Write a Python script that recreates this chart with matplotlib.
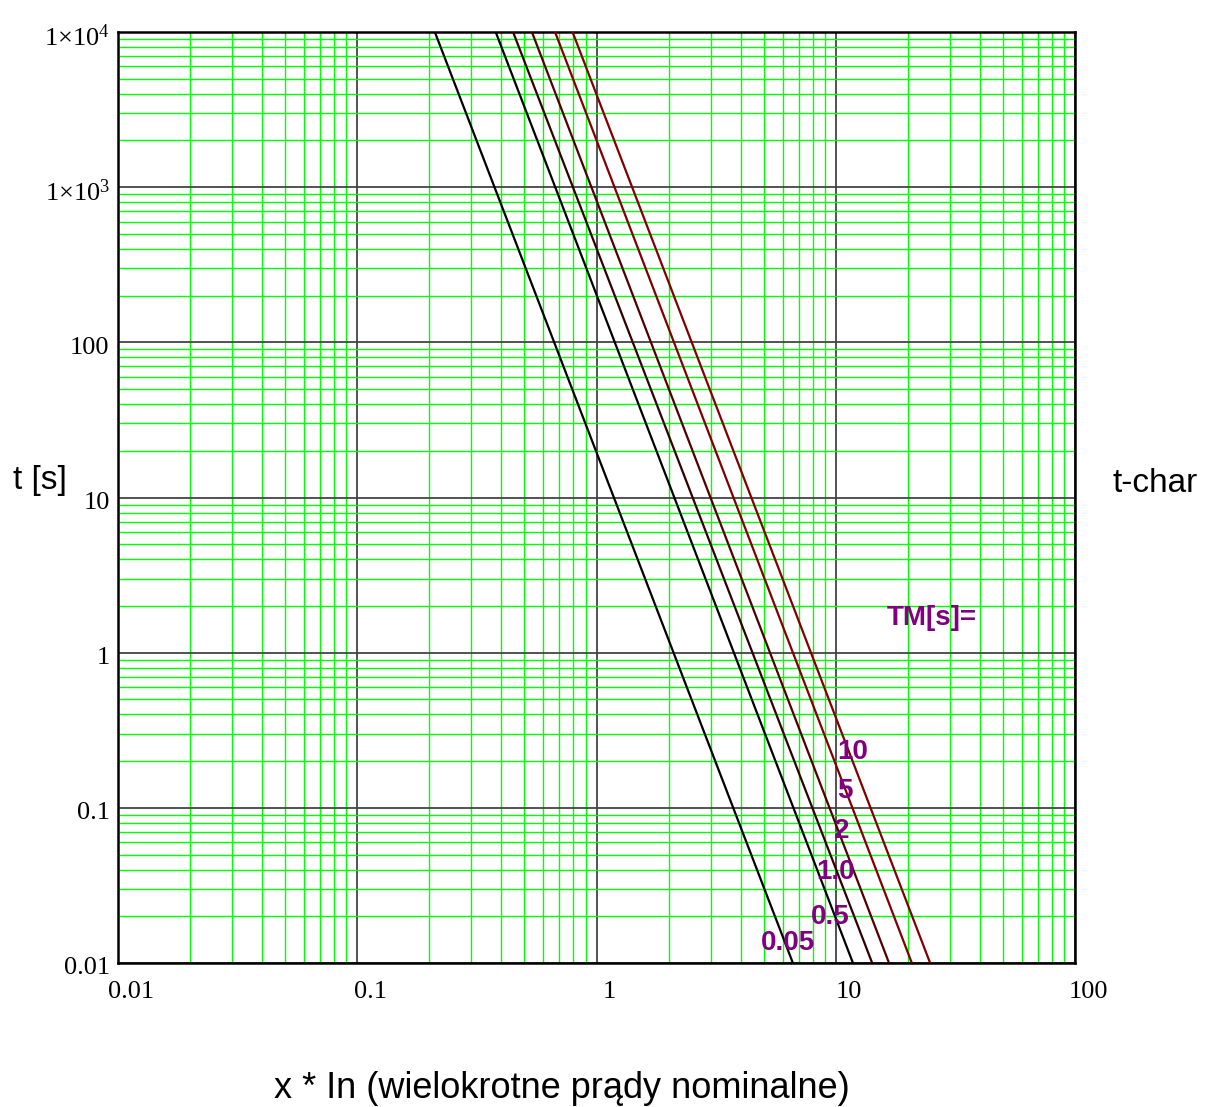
import numpy as np
import matplotlib
matplotlib.use("Agg")
import matplotlib.pyplot as plt
import matplotlib.transforms as mtransforms
from matplotlib.ticker import FixedLocator, LogLocator, NullFormatter

plt.rcParams['mathtext.fontset'] = 'custom'
plt.rcParams['mathtext.rm'] = 'Liberation Serif'
plt.rcParams['mathtext.it'] = 'Liberation Serif:italic'
plt.rcParams['mathtext.bf'] = 'Liberation Serif:bold'

# Dane: prosta w skali log-log, punkty na górnej i dolnej krawędzi
tm_labels = ["0.05", "0.5", "1.0", "2", "5", "10"]
x_at_top = [0.211, 0.379, 0.448, 0.537, 0.671, 0.794]    # t = 1e4 s
x_at_bottom = [6.62, 11.8, 14.2, 16.7, 20.8, 24.8]       # t = 0.01 s
t_ends = [1e4, 0.01]
line_colors = ["#000000", "#000000", "#300000", "#500000", "#800000", "#800000"]

# polozenie podpisow TM
label_x = [6.31, 9.46, 10.0, 10.6, 10.9, 11.8]
label_t = [0.0135, 0.0199, 0.0388, 0.0713, 0.129, 0.230]

x_ticks = [0.01, 0.1, 1, 10, 100]
x_ticklabels = ["0.01", "0.1", "1", "10", "100"]
y_ticks = [0.01, 0.1, 1, 10, 100, 1000, 10000]
y_ticklabels = ["0.01", "0.1", "1", "10", "100", r"$1{\times}10^{3}$", r"$1{\times}10^{4}$"]

fig = plt.figure(figsize=(12.05, 11.07), dpi=100)
ax = fig.add_axes([118 / 1205, 1 - 963 / 1107, (1075 - 118) / 1205, (963 - 32) / 1107])
ax.set_xscale('log')
ax.set_yscale('log')
ax.set_xlim(0.01, 100)
ax.set_ylim(0.01, 1e4)

for i in range(len(tm_labels)):
    ax.plot([x_at_top[i], x_at_bottom[i]], t_ends, color=line_colors[i], lw=1.6, zorder=3)
    ax.text(label_x[i], label_t[i], tm_labels[i], color='#800080', fontsize=20,
            fontweight='bold', family='Liberation Sans', ha='center', va='center', zorder=4)

ax.text(25.3, 1.68, "TM[s]=", color='#800080', fontsize=20, fontweight='bold',
        family='Liberation Sans', ha='center', va='center')

# siatka
ax.xaxis.set_minor_locator(LogLocator(base=10, subs=np.arange(2, 10)))
ax.yaxis.set_minor_locator(LogLocator(base=10, subs=np.arange(2, 10)))
ax.xaxis.set_minor_formatter(NullFormatter())
ax.yaxis.set_minor_formatter(NullFormatter())
ax.grid(which='minor', color='#00ff00', lw=1.0)
ax.grid(which='major', color='#444444', lw=1.3)
ax.set_axisbelow(True)

ax.xaxis.set_major_locator(FixedLocator(x_ticks))
ax.yaxis.set_major_locator(FixedLocator(y_ticks))
ax.set_xticklabels(x_ticklabels, family='Liberation Serif', fontsize=19)
ax.set_yticklabels(y_ticklabels, family='Liberation Serif', fontsize=19)
ax.tick_params(which='both', length=0)
ax.tick_params(axis='x', pad=13)
ax.tick_params(axis='y', pad=6)

# przesuniecie podpisow osi x w prawo
shift = mtransforms.ScaledTranslation(13 / 100, 0, fig.dpi_scale_trans)
for lab in ax.get_xticklabels():
    lab.set_transform(lab.get_transform() + shift)
shift_y = mtransforms.ScaledTranslation(0, -3 / 100, fig.dpi_scale_trans)
for lab in ax.get_yticklabels():
    lab.set_transform(lab.get_transform() + shift_y)

for s in ax.spines.values():
    s.set_linewidth(1.8)
    s.set_color('black')

fig.text(40 / 1205, 1 - 481 / 1107, "t [s]", fontsize=24, family='Liberation Sans',
         ha='center', va='center')
fig.text(1155 / 1205, 1 - 483 / 1107, "t-char", fontsize=24, family='Liberation Sans',
         ha='center', va='center')
fig.text(562 / 1205, 1 - 1088 / 1107, "x * In (wielokrotne prądy nominalne)", fontsize=26,
         family='Liberation Sans', ha='center', va='center')

fig.savefig("out.png", dpi=100)
